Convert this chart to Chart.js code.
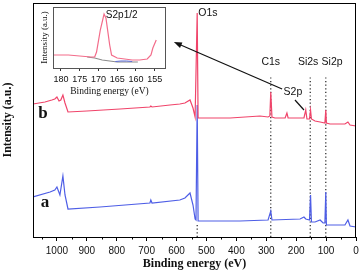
<!DOCTYPE html>
<html>
<head>
<meta charset="utf-8">
<script src="https://cdn.jsdelivr.net/npm/chart.js@4"></script>
<style>
	html, body { margin: 0; padding: 0; background: #fff; }
	#wrap { position: relative; width: 361px; height: 277px; }
	#main { position: absolute; left: 0; top: 0; width: 361px; height: 277px; }
	#inset { position: absolute; left: 36px; top: 0; width: 134px; height: 98px; }
</style>
</head>
<body>
<div id="wrap">
	<canvas id="main" width="361" height="277"></canvas>
	<canvas id="inset" width="134" height="98"></canvas>
</div>
<script>
// survey spectra (binding energy in eV, intensity in a.u.)
const bEnergy = [1080, 1040, 1017, 1007, 1000, 993, 987, 980, 973, 963, 900, 789, 689, 686, 682, 622, 589, 572, 555, 545, 538, 535, 531, 528, 522, 421, 321, 294, 288, 285, 281, 271, 237, 231, 227, 187, 174, 168, 164, 155.5, 152, 149, 137, 120, 104, 101, 99, 87, 37, 27, 20, 0];
const bIntensity = [133, 135, 137, 138, 140, 136, 137, 142, 134, 125, 126, 128, 130, 131, 130, 132, 133, 134, 137, 129, 120, 120, 224, 119, 119, 119, 121, 120, 121, 145, 120, 119, 119, 124, 119, 119, 119, 127, 118, 118, 127, 118, 116, 115, 114, 127, 114, 113, 113, 115, 112, 111];

const aEnergy = [1080, 1023, 1007, 1000, 990, 980, 973, 963, 856, 689, 686, 682, 589, 572, 555, 545, 538, 535, 531, 528, 522, 388, 294, 285, 281, 187, 174, 168, 155.5, 152, 149, 137, 120, 110, 104, 101, 99, 87, 37, 27, 20, 0];
const aIntensity = [40, 45, 47, 50, 42, 61, 42, 28, 30, 34, 37, 34, 37, 39, 44, 32, 18, 17, 132, 16, 16, 16, 17, 26, 17, 18, 20, 18, 17, 42, 15, 15, 17, 14, 14, 45, 12, 12, 12, 17, 11, 10];

// peak markers (dotted lines)
const markerEnergy = [531, 285, 153, 101];
const markerTop = [12, 162, 162, 162];

const mainTicks = [0, 100, 200, 300, 400, 500, 600, 700, 800, 900, 1000];
const mainMinorTicks = [50, 150, 250, 350, 450, 550, 650, 750, 850, 950, 1050];

const peakLabels = [
	{ text: "O1s", x: 495, y: 224 },
	{ text: "C1s", x: 285, y: 175 },
	{ text: "Si2s", x: 160, y: 175 },
	{ text: "Si2p", x: 80, y: 175 },
	{ text: "S2p", x: 211, y: 145 },
];
const curveLabels = [
	{ text: "b", x: 1047, y: 123 },
	{ text: "a", x: 1040, y: 34 },
];
const s2pLeader = [{ x: 204, y: 137 }, { x: 174, y: 127 }];
const arrowLine = [{ x: 247, y: 148 }, { x: 609, y: 195 }];

// S2p high resolution inset
const insetEnergy = [182, 178, 175, 172, 171, 170.5, 169.5, 168.5, 168, 167, 166.5, 165, 163, 161, 159, 157, 156, 155.5, 154.6];
const insetIntensity = [13, 13, 12, 11, 11, 16, 38, 54, 50, 23, 13, 10, 9, 8, 8, 9, 13, 20, 28];
const insetBgEnergy = [173, 171, 169, 167, 165, 162, 159.5];
const insetBgIntensity = [11, 10, 8, 7, 6, 6, 6];
const insetFitEnergy = [165.5, 164, 162.5, 161];
const insetFitIntensity = [6.5, 7, 7, 6.5];
const insetTicks = [155, 160, 165, 170, 175, 180];

const toPoints = (xs, ys) => xs.map((x, i) => ({ x, y: ys[i] }));

Chart.defaults.font.family = "'Liberation Sans', Arial, sans-serif";
Chart.defaults.color = "#111";

const markerSets = markerEnergy.map((e, i) => ({
	data: [{ x: e, y: 0 }, { x: e, y: markerTop[i] }],
	borderColor: "#222",
	borderWidth: 1.2,
	borderDash: [1.2, 2.4],
	pointRadius: 0,
	order: 3,
}));

const mainDecor = {
	id: "mainDecor",
	afterDraw(chart) {
		const { ctx, chartArea, scales } = chart;
		const xs = scales.x, ys = scales.y;
		ctx.save();
		// minor ticks
		ctx.strokeStyle = "#000";
		ctx.lineWidth = 1;
		mainMinorTicks.forEach((v) => {
			const px = Math.round(xs.getPixelForValue(v)) + 0.5;
			ctx.beginPath();
			ctx.moveTo(px, chartArea.bottom);
			ctx.lineTo(px, chartArea.bottom + 2.5);
			ctx.stroke();
		});
		// frame
		ctx.strokeRect(chartArea.left + 0.5, chartArea.top + 0.5, chartArea.right - chartArea.left - 1, chartArea.bottom - chartArea.top);
		// peak labels
		ctx.fillStyle = "#111";
		ctx.font = "10.5px 'Liberation Sans', Arial, sans-serif";
		ctx.textAlign = "center";
		ctx.textBaseline = "middle";
		peakLabels.forEach((l) => {
			ctx.fillText(l.text, xs.getPixelForValue(l.x), ys.getPixelForValue(l.y));
		});
		ctx.font = "bold 17px 'Liberation Serif', 'Times New Roman', serif";
		curveLabels.forEach((l) => {
			ctx.fillText(l.text, xs.getPixelForValue(l.x), ys.getPixelForValue(l.y));
		});
		// leader line and arrow
		ctx.strokeStyle = "#111";
		ctx.lineWidth = 1.2;
		ctx.beginPath();
		ctx.moveTo(xs.getPixelForValue(s2pLeader[0].x), ys.getPixelForValue(s2pLeader[0].y));
		ctx.lineTo(xs.getPixelForValue(s2pLeader[1].x), ys.getPixelForValue(s2pLeader[1].y));
		ctx.stroke();
		const x0 = xs.getPixelForValue(arrowLine[0].x), y0 = ys.getPixelForValue(arrowLine[0].y);
		const x1 = xs.getPixelForValue(arrowLine[1].x), y1 = ys.getPixelForValue(arrowLine[1].y);
		const ang = Math.atan2(y1 - y0, x1 - x0);
		ctx.beginPath();
		ctx.moveTo(x0, y0);
		ctx.lineTo(x1 - 5 * Math.cos(ang), y1 - 5 * Math.sin(ang));
		ctx.stroke();
		ctx.fillStyle = "#111";
		ctx.beginPath();
		ctx.moveTo(x1, y1);
		ctx.lineTo(x1 - 8 * Math.cos(ang) + 3 * Math.sin(ang), y1 - 8 * Math.sin(ang) - 3 * Math.cos(ang));
		ctx.lineTo(x1 - 8 * Math.cos(ang) - 3 * Math.sin(ang), y1 - 8 * Math.sin(ang) + 3 * Math.cos(ang));
		ctx.closePath();
		ctx.fill();
		ctx.restore();
	},
};

new Chart(document.getElementById("main"), {
	type: "line",
	data: {
		datasets: [
			{
				data: toPoints(bEnergy, bIntensity),
				borderColor: "#f0446a",
				borderWidth: 1.2,
				pointRadius: 0,
				order: 1,
			},
			{
				data: toPoints(aEnergy, aIntensity),
				borderColor: "#4e5ee6",
				borderWidth: 1.2,
				pointRadius: 0,
				order: 2,
			},
			...markerSets,
		],
	},
	options: {
		responsive: false,
		animation: false,
		events: [],
		layout: { padding: { top: 3, right: 5, left: 0, bottom: 0 } },
		plugins: { legend: { display: false }, tooltip: { enabled: false } },
		elements: { line: { tension: 0 } },
		scales: {
			x: {
				type: "linear",
				reverse: true,
				min: 0,
				max: 1080,
				afterBuildTicks: (s) => { s.ticks = mainTicks.map((v) => ({ value: v })); },
				afterFit: (s) => { s.height = 40; },
				ticks: {
					autoSkip: false,
					maxRotation: 0,
					padding: 4,
					color: "#111",
					font: { size: 10 },
					callback: (v) => String(v),
				},
				grid: { drawOnChartArea: false, tickLength: 4, tickColor: "#000" },
				border: { display: false },
				title: {
					display: true,
					text: "Binding energy (eV)",
					color: "#111",
					font: { family: "'Liberation Serif', 'Times New Roman', serif", size: 12, weight: "bold" },
					padding: { top: 2, bottom: 6 },
				},
			},
			y: {
				min: 0,
				max: 234,
				afterFit: (s) => { s.width = 33; },
				ticks: { display: false },
				grid: { display: false },
				border: { display: false },
				title: {
					display: true,
					text: "Intensity (a.u.)",
					color: "#111",
					font: { family: "'Liberation Serif', 'Times New Roman', serif", size: 12, weight: "bold" },
					padding: { top: 1, bottom: 0 },
				},
			},
		},
	},
	plugins: [mainDecor],
});

const insetDecor = {
	id: "insetDecor",
	afterDraw(chart) {
		const { ctx, chartArea, scales } = chart;
		ctx.save();
		ctx.strokeStyle = "#555";
		ctx.lineWidth = 1;
		ctx.strokeRect(chartArea.left + 0.5, chartArea.top + 0.5, chartArea.right - chartArea.left - 1, chartArea.bottom - chartArea.top);
		ctx.fillStyle = "#111";
		ctx.font = "10px 'Liberation Sans', Arial, sans-serif";
		ctx.textAlign = "center";
		ctx.textBaseline = "middle";
		ctx.fillText("S2p1/2", scales.x.getPixelForValue(163.8), scales.y.getPixelForValue(53));
		ctx.restore();
	},
};

new Chart(document.getElementById("inset"), {
	type: "line",
	data: {
		datasets: [
			{ data: toPoints(insetEnergy, insetIntensity), borderColor: "#f36c8a", borderWidth: 1.2, pointRadius: 0, order: 1 },
			{ data: toPoints(insetFitEnergy, insetFitIntensity), borderColor: "#5b6bd8", borderWidth: 1, pointRadius: 0, order: 2 },
			{ data: toPoints(insetBgEnergy, insetBgIntensity), borderColor: "#8c8c8c", borderWidth: 1.2, pointRadius: 0, order: 3 },
		],
	},
	options: {
		responsive: false,
		animation: false,
		events: [],
		layout: { padding: { top: 7, right: 4, left: 0, bottom: 0 } },
		plugins: { legend: { display: false }, tooltip: { enabled: false } },
		elements: { line: { tension: 0 } },
		scales: {
			x: {
				type: "linear",
				reverse: true,
				min: 152,
				max: 182.1,
				afterBuildTicks: (s) => { s.ticks = insetTicks.map((v) => ({ value: v })); },
				afterFit: (s) => { s.height = 30; },
				ticks: { autoSkip: false, maxRotation: 0, padding: 3, color: "#111", font: { size: 9 } },
				grid: { drawOnChartArea: false, tickLength: 3, tickColor: "#333" },
				border: { display: false },
				title: {
					display: true,
					text: "Binding energy (eV)",
					color: "#111",
					font: { family: "'Liberation Serif', 'Times New Roman', serif", size: 9.5 },
					padding: { top: 0, bottom: 1 },
				},
			},
			y: {
				min: 0,
				max: 61,
				afterFit: (s) => { s.width = 17; },
				ticks: { display: false },
				grid: { display: false },
				border: { display: false },
				title: {
					display: true,
					text: "Intensity (a.u.)",
					color: "#111",
					font: { family: "'Liberation Serif', 'Times New Roman', serif", size: 9 },
					padding: { top: 3, bottom: 0 },
				},
			},
		},
	},
	plugins: [insetDecor],
});
</script>
</body>
</html>
